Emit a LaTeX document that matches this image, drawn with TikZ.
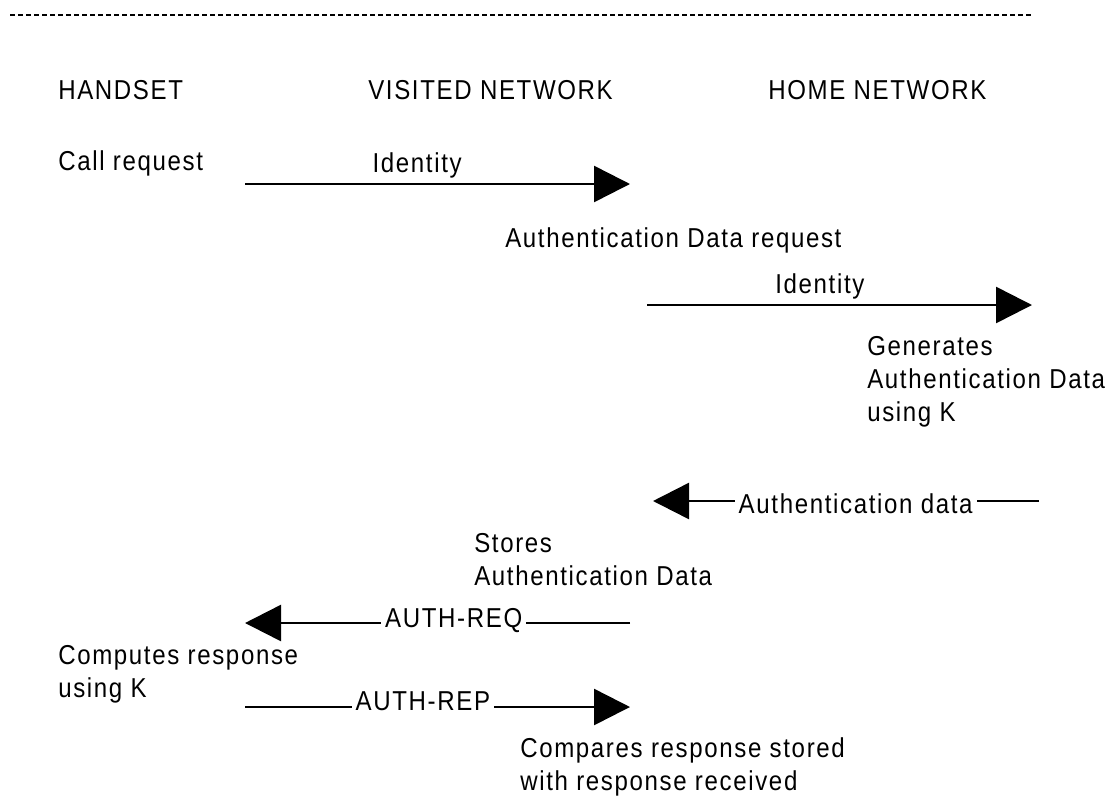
\documentclass[tikz,border=0pt]{standalone}
\usepackage{fontspec}
\setmainfont{Liberation Sans}[FakeStretch=0.88,LetterSpace=6]
\usetikzlibrary{arrows.meta}
\begin{document}
\begin{tikzpicture}[x=0.75pt,y=-0.75pt,
		>={Triangle[length=27pt,width=27pt]},
		every node/.style={font=\fontsize{20.5}{24.75}\selectfont},
		msg/.style={->,line width=1.9pt},
		txt/.style={anchor=base west,align=left,inner sep=0pt},
		lbl/.style={anchor=base,inner sep=0pt},
		cut/.style={anchor=base,fill=white,inner xsep=3pt,inner ysep=0pt}]
	\useasboundingbox (0,0) rectangle (1112,810);
	\draw[line width=1.5pt,dash pattern=on 4pt off 2pt] (10,15) -- (1033,15);
	\node[txt] (hs) at (58,99) {HANDSET};
	\node[txt] (vn) at (368,99) {VISITED NETWORK};
	\node[txt] (hn) at (768,99) {HOME NETWORK};
	\node[txt] (callreq) at (58,170) {Call request};
	\node[txt] (authreq) at (505,247) {Authentication Data request};
	\node[txt] (gen) at (867,421) {Generates\\Authentication Data\\using K};
	\node[txt] (stores) at (474,585) {Stores\\Authentication Data};
	\node[txt] (computes) at (58,697) {Computes response\\using K};
	\node[txt] (compares) at (520,790) {Compares response stored\\with response received};
	\coordinate (m1s) at (245,184); \coordinate (m1e) at (630,184);
	\coordinate (m2s) at (647,305); \coordinate (m2e) at (1032,305);
	\coordinate (m3s) at (1039,501); \coordinate (m3e) at (653,501);
	\coordinate (m4s) at (630,623); \coordinate (m4e) at (245,623);
	\coordinate (m5s) at (245,707); \coordinate (m5e) at (630,707);
	\draw[msg] (m1s) -- node[lbl,pos=.447,yshift=9pt] (id1) {Identity} (m1e);
	\draw[msg] (m2s) -- node[lbl,pos=.449,yshift=9pt] (id2) {Identity} (m2e);
	\draw[msg] (m3s) -- node[cut,pos=.475,yshift=-9pt] (adata) {Authentication data} (m3e);
	\draw[msg] (m4s) -- node[cut,pos=.458,yshift=-3pt] (areq) {AUTH-REQ} (m4e);
	\draw[msg] (m5s) -- node[cut,pos=.462,yshift=-2.25pt] (arep) {AUTH-REP} (m5e);
\end{tikzpicture}
\end{document}
